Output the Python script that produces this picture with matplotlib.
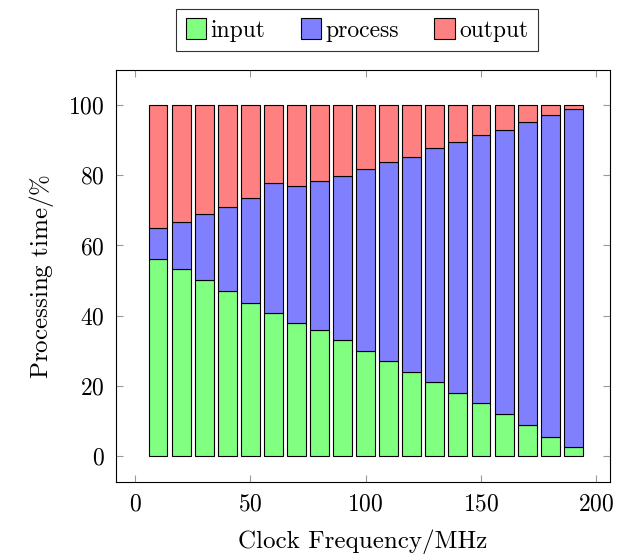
import matplotlib
matplotlib.use("Agg")
import matplotlib.pyplot as plt
import numpy as np

plt.rcParams['font.family'] = 'serif'
plt.rcParams['font.serif'] = ['cmr10', 'DejaVu Serif']
plt.rcParams['mathtext.fontset'] = 'cm'
plt.rcParams['axes.formatter.use_mathtext'] = True

# clock frequencies (MHz)
freqs = [10, 20, 30, 40, 50, 60, 70, 80, 90, 100,
         110, 120, 130, 140, 150, 160, 170, 180, 190]
# share of processing time (%)
input_pct = [56.1, 53.4, 50.1, 47.1, 43.5, 40.7, 38.0, 36.0, 33.0, 30.0,
             27.0, 24.0, 21.1, 18.1, 15.2, 11.9, 8.9, 5.5, 2.6]
process_top = [65.0, 66.8, 68.9, 71.0, 73.6, 77.7, 76.9, 78.5, 79.7, 81.8,
               83.8, 85.3, 87.7, 89.5, 91.4, 92.9, 95.2, 97.1, 98.9]

inp = np.array(input_pct)
proc = np.array(process_top) - inp
out = 100 - np.array(process_top)

fig = plt.figure(figsize=(6.24, 5.55), dpi=100)
ax = fig.add_axes([116 / 624, 1 - 482 / 555, (610 - 116) / 624, (482 - 70) / 555])

w = 8.2
kw = dict(width=w, edgecolor='black', linewidth=0.8)
ax.bar(freqs, inp, color='#80ff80', label='input', **kw)
ax.bar(freqs, proc, bottom=inp, color='#8080ff', label='process', **kw)
ax.bar(freqs, out, bottom=inp + proc, color='#ff8080', label='output', **kw)

ax.set_xlim(-8.2, 205.9)
ax.set_ylim(-7.4, 110)
ax.set_xticks([0, 50, 100, 150, 200])
ax.set_yticks([0, 20, 40, 60, 80, 100])
ax.tick_params(direction='in', top=True, right=True, labelsize=17, length=5,
               color='#999999', pad=8)
for s in ax.spines.values():
    s.set_linewidth(0.8)

ax.set_xlabel('Clock Frequency/MHz', fontsize=18, labelpad=10)
ax.set_ylabel(r'Processing time/$\%$', fontsize=18, labelpad=9)

leg = fig.legend(loc='center', bbox_to_anchor=(357 / 624, 1 - 30 / 555), ncol=3,
                 fontsize=17, frameon=True, fancybox=False, edgecolor='black',
                 handlelength=0.85, handleheight=1.0, handletextpad=0.2,
                 columnspacing=1.5, borderpad=0.4, borderaxespad=0)
leg.get_frame().set_linewidth(0.8)

fig.savefig('out.png', dpi=100)
